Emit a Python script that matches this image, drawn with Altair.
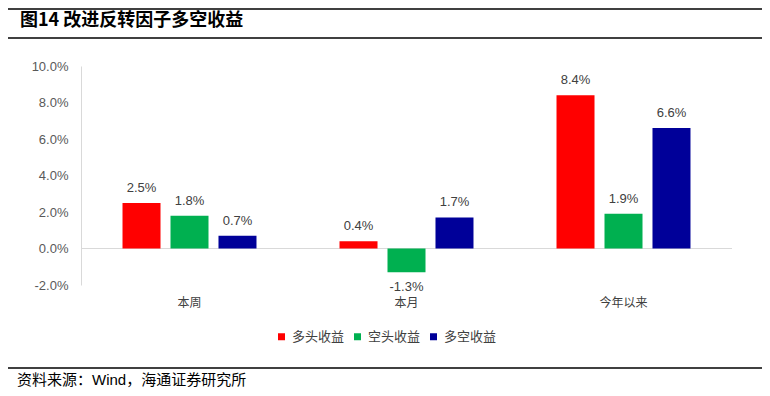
import altair as alt
import pandas as pd

categories = ["本周", "本月", "今年以来"]
series = ["多头收益", "空头收益", "多空收益"]
long_vals = [2.5, 0.4, 8.4]
short_vals = [1.8, -1.3, 1.9]
ls_vals = [0.7, 1.7, 6.6]
colors = ["#FF0000", "#00B050", "#000099"]
y_ticks = [-2, 0, 2, 4, 6, 8, 10]

title_text = "图14 改进反转因子多空收益"
source_text = "资料来源：Wind，海通证券研究所"

CJK = "Noto Sans CJK SC"
LAT = "Liberation Sans, Noto Sans CJK SC"

rows = []
for s, vals in zip(series, [long_vals, short_vals, ls_vals]):
    for c, v in zip(categories, vals):
        rows.append({"cat": c, "series": s, "value": v, "label": f"{v:.1f}%"})
df = pd.DataFrame(rows)
one = pd.DataFrame({"z": [0]})

W, H = 651, 219

yscale = alt.Scale(domain=[-2, 10], nice=False)
yaxis = alt.Axis(title=None, values=y_ticks, grid=False, ticks=False,
                 domainColor="#D9D9D9", labelPadding=13,
                 labelExpr="(datum.value < 0 ? '-' : '') + format(abs(datum.value), '.1f') + '%'",
                 labelFont=LAT, labelFontSize=13, labelColor="#595959")

base = alt.Chart(df).encode(
    x=alt.X("cat:N", sort=categories,
            scale=alt.Scale(paddingInner=0, paddingOuter=0),
            axis=alt.Axis(title=None, domain=False, ticks=False, labelAngle=0,
                          labelPadding=12, labelFont=CJK, labelFontSize=12,
                          labelColor="#404040")),
    xOffset=alt.XOffset("series:N", sort=series,
                        scale=alt.Scale(paddingInner=0.208, paddingOuter=0.865)),
)

zero = alt.Chart(one).mark_rule(color="#D9D9D9", strokeWidth=1).encode(
    y=alt.Y("z:Q", scale=yscale, axis=yaxis)
)

bars = base.mark_bar().encode(
    y=alt.Y("value:Q", scale=yscale, axis=yaxis),
    color=alt.Color("series:N", sort=series,
                    scale=alt.Scale(domain=series, range=colors),
                    legend=alt.Legend(title=None, orient="none", legendX=194, legendY=264,
                                      direction="horizontal", symbolType="square",
                                      symbolSize=49, symbolStrokeWidth=0,
                                      labelFont=CJK, labelFontSize=13,
                                      labelColor="#404040", labelOffset=4,
                                      columnPadding=6, padding=0)),
)

pos_text = base.mark_text(baseline="alphabetic", dy=-11, font=LAT, fontSize=13,
                          color="#404040").encode(
    y=alt.Y("value:Q", scale=yscale, axis=yaxis), text="label:N"
).transform_filter("datum.value >= 0")

neg_text = base.mark_text(baseline="top", dy=9, font=LAT, fontSize=13,
                          color="#404040").encode(
    y=alt.Y("value:Q", scale=yscale, axis=yaxis), text="label:N"
).transform_filter("datum.value < 0")

def hline(ypix):
    return alt.Chart(one).mark_rule(color="black", strokeWidth=1.5).encode(
        x=alt.value(-73), x2=alt.value(681), y=alt.value(ypix))

title = alt.Chart(one).mark_text(align="left", baseline="middle", font=CJK,
                                 fontSize=18, fontWeight="bold", color="black").encode(
    x=alt.value(-61), y=alt.value(-45), text=alt.value(title_text))

source = alt.Chart(one).mark_text(align="left", baseline="middle", font=LAT,
                                  fontSize=15, color="black").encode(
    x=alt.value(-64), y=alt.value(314), text=alt.value(source_text))

chart = alt.layer(
    zero, bars, pos_text, neg_text,
    hline(-57), hline(-28), hline(302), title, source
).properties(
    width=W, height=H,
    background="white",
    autosize=alt.AutoSizeParams(type="none"),
    padding={"left": 73, "top": 58, "right": 30, "bottom": 103},
).configure_view(stroke=None)

chart.save("out.html", embed_options={"renderer": "svg", "actions": False})
